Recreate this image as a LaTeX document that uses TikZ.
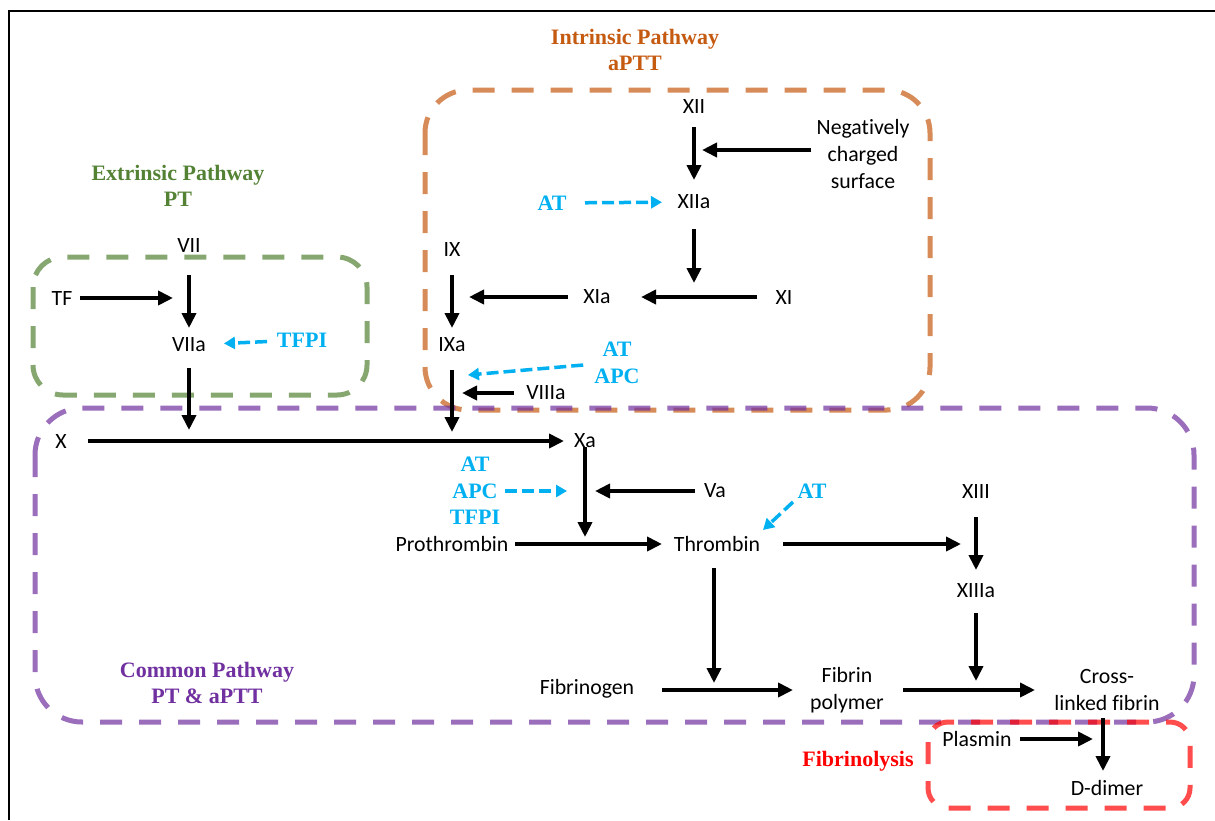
\documentclass[tikz,border=0pt]{standalone}
\usepackage{fontspec}
\setmainfont[Ligatures=NoCommon]{Carlito}
\newfontfamily\tnr{Liberation Serif}
\usetikzlibrary{arrows.meta,calc}
\definecolor{cgreen}{HTML}{548235}
\definecolor{corange}{HTML}{C55A11}
\definecolor{cpurple}{HTML}{7030A0}
\definecolor{cred}{HTML}{FF0000}
\definecolor{cblue}{HTML}{00B0F0}
\begin{document}
\begin{tikzpicture}[x=1pt,y=-1pt,
  lbl/.style={inner sep=0pt, align=center, font=\fontsize{21.8}{27}\selectfont},
  ttl/.style={inner sep=0pt, align=center, font=\tnr\bfseries\fontsize{22}{26.5}\selectfont},
  inhl/.style={ttl, text=cblue},
  arr/.style={line width=4pt, -{Triangle[length=15pt,width=14pt]}},
  inh/.style={line width=3.5pt, cblue, dash pattern=on 12pt off 5pt, -{Triangle[length=11pt,width=12pt]}},
  zone/.style={line width=5pt, draw opacity=0.7, dash pattern=on 22pt off 17pt},
]
\useasboundingbox (0,0) rectangle (1215,820);
% frame
\draw[line width=2pt] (9,820) -- (9,11) -- (1215,11);
% zones
\draw[zone, draw=corange, rounded corners=43pt] (425,90) rectangle (930,410);
\draw[zone, draw=cgreen, rounded corners=30pt] (33,257) rectangle (367,395);
\draw[zone, draw=cpurple, rounded corners=47pt] (35,408) rectangle (1194,722);
\draw[zone, draw=cred, rounded corners=20pt] (928,722) rectangle (1190,808);
% titles
\node[ttl,text=corange] (tInt) at (635,50) {Intrinsic Pathway\\aPTT};
\node[ttl,text=cgreen] (tExt) at (178,186) {Extrinsic Pathway\\PT};
\node[ttl,text=cpurple] (tCom) at (207,683) {Common Pathway\\PT \& aPTT};
\node[ttl,text=cred] (tFib) at (858,761) {Fibrinolysis};
% factors
\node[lbl] (XII) at (694,107) {XII};
\node[lbl] (neg) at (863,154) {Negatively\\charged\\surface};
\node[lbl] (XIIa) at (694,202) {XIIa};
\node[lbl] (IX) at (452,249) {IX};
\node[lbl] (XIa) at (597,297) {XIa};
\node[lbl] (XI) at (784,297) {XI};
\node[lbl] (IXa) at (452,345) {IXa};
\node[lbl] (VIIIa) at (546,393) {VIIIa};
\node[lbl] (VII) at (189,245) {VII};
\node[lbl] (TF) at (62,298) {TF};
\node[lbl] (VIIa) at (189,345) {VIIa};
\node[lbl] (X) at (61,441) {X};
\node[lbl] (Xa) at (585,441) {Xa};
\node[lbl] (Va) at (715,491) {Va};
\node[lbl] (Pro) at (452,544) {Prothrombin};
\node[lbl] (Thr) at (717,544) {Thrombin};
\node[lbl] (XIII) at (976,491) {XIII};
\node[lbl] (XIIIa) at (976,591) {XIIIa};
\node[lbl] (Fgen) at (587,689) {Fibrinogen};
\node[lbl] (Fpol) at (847,690) {Fibrin\\polymer};
\node[lbl] (Cross) at (1107,690) {Cross-\\linked fibrin};
\node[lbl] (Plas) at (977,739) {Plasmin};
\node[lbl] (Ddim) at (1107,788) {D-dimer};
% inhibitors
\node[inhl] (at1) at (552,203) {AT};
\node[inhl] (tfpi1) at (302,340) {TFPI};
\node[inhl] (atapc) at (617,363) {AT\\APC};
\node[inhl] (aat) at (475,491) {AT\\APC\\TFPI};
\node[inhl] (at3) at (812,491) {AT};
% junctions
\coordinate (jA) at (694,150);
\coordinate (jB) at (694,297);
\coordinate (jC) at (452,297);
\coordinate (jD) at (452,376.4);
\coordinate (jE) at (452,441);
\coordinate (jF) at (452,393);
\coordinate (jG) at (189,298);
\coordinate (jH) at (189,441);
\coordinate (jI) at (585,544);
\coordinate (jJ) at (585,491);
\coordinate (jK) at (976,544);
\coordinate (jL) at (714,690);
\coordinate (jM) at (976,690);
\coordinate (jN) at (1103,739);
% arrows
\draw[arr,shorten <=20,shorten >=22] (XII.center) -- (XIIa.center);
\draw[arr,shorten >=8] ($(neg.west |- jA)+(-5,0)$) -- (jA);
\draw[inh,shorten <=33,shorten >=32] (at1.center) -- (jA |- XIIa.center);
\draw[arr,shorten <=27,shorten >=14] (XIIa.center) -- (jB);
\draw[arr,shorten <=27,shorten >=44] (XI.center) -- (XIa.center);
\draw[arr,shorten <=29,shorten >=17] (XIa.center) -- (jC);
\draw[arr,shorten <=26,shorten >=17] (IX.center) -- (IXa.center);
\draw[inh,shorten >=16] ($(atapc.west)+(-11,2)$) -- (jD);
\draw[arr,shorten <=25,shorten >=9] (IXa.center) -- (jE);
\draw[arr,shorten <=32,shorten >=10] (VIIIa.center) -- (jF);
\draw[arr,shorten <=30,shorten >=17] (VII.center) -- (VIIa.center);
\draw[arr,shorten <=18,shorten >=16] (TF.center) -- (jG);
\draw[inh,shorten <=35,shorten >=35] (tfpi1.center) -- (VIIa.center);
\draw[arr,shorten <=23,shorten >=11] (VIIa.center) -- (jH);
\draw[arr,shorten <=27,shorten >=21] (X.center) -- (Xa.center);
\draw[arr,shorten <=6,shorten >=7] (Xa.center) -- (jI);
\draw[inh,shorten <=30,shorten >=18] (aat.center) -- (jJ);
\draw[arr,shorten <=20,shorten >=10] (Va.center) -- (jJ);
\draw[arr,shorten <=63,shorten >=55] (Pro.center) -- (Thr.center);
\draw[inh] ($(at3.center)+(-19,11)$) -- ($(Thr.center)+(46,-14)$);
\draw[arr,shorten <=66,shorten >=15] (Thr.center) -- (jK);
\draw[arr,shorten <=26,shorten >=21] (XIII.center) -- (XIIIa.center);
\draw[arr,shorten <=24,shorten >=7] (jL |- Thr.center) -- (jL);
\draw[arr,shorten <=75,shorten >=54] (Fgen.center |- jL) -- (Fpol.center);
\draw[arr,shorten <=22,shorten >=9] (XIIIa.center) -- (jM);
\draw[arr,shorten <=56,shorten >=72] (Fpol.center) -- (Cross.center);
\draw[arr,shorten <=28,shorten >=17] (jN |- Cross.center) -- (jN |- Ddim.center);
\draw[arr,shorten <=43,shorten >=10] (Plas.center) -- (jN);
\end{tikzpicture}
\end{document}
